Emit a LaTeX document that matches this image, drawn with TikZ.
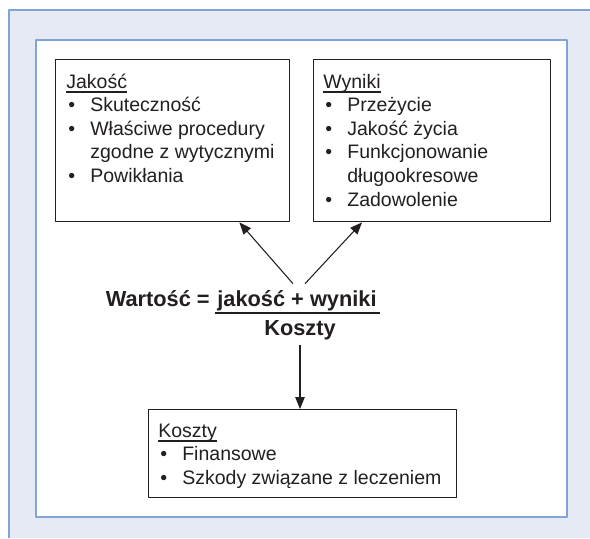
\documentclass[tikz,border=0pt]{standalone}
\usepackage{fontspec}
\setmainfont{Liberation Sans}
\usetikzlibrary{positioning,arrows.meta}
\definecolor{panelfill}{RGB}{230,234,245}
\definecolor{panelline}{RGB}{128,164,214}
\definecolor{ink}{RGB}{35,31,32}
\newcommand\boxtitle[1]{\strut\setbox0=\hbox{#1}\rlap{\rule[-0.09cm]{\wd0}{0.03cm}}\box0}
\newcommand\itm{\makebox[0.48cm][l]{\hspace{0.04cm}\textbullet}}
\newcommand\cnt{\hspace*{0.48cm}}
\begin{document}
\begin{tikzpicture}[x=0.02cm,y=-0.02cm,>={Triangle[length=0.24cm,width=0.19cm]},line join=round,
  box/.style={draw=ink,line width=0.8pt,inner sep=0pt,anchor=north west},
  list/.style={anchor=north west,inner sep=0pt,align=left,text=ink,font=\fontsize{11.1}{13.4}\selectfont},
  formula/.style={inner sep=0pt,text=ink,font=\fontsize{12.4}{14}\selectfont\bfseries}]
\useasboundingbox (0,0) rectangle (590,538);
\fill[panelfill] (9,10) rectangle (590,538);
\draw[panelline,line width=1pt] (9,538)--(9,10)--(590,10);
\filldraw[fill=white,draw=panelline,line width=1pt] (36,40) rectangle (567,517);
% boxes
\node[box,minimum width=4.68cm,minimum height=3.24cm] (jak) at (55,59) {};
\node[box,minimum width=4.74cm,minimum height=3.24cm] (wyn) at (313,59) {};
\node[box,minimum width=6.16cm,minimum height=1.76cm] (kos) at (148,409) {};
\node[list] (jakTxt) at ([shift={(0.22cm,-0.25cm)}]jak.north west)
  {\boxtitle{Jakość}\\ \itm Skuteczność\\ \itm Właściwe procedury\\ \cnt zgodne z wytycznymi\\ \itm Powikłania};
\node[list] (wynTxt) at ([shift={(0.2cm,-0.25cm)}]wyn.north west)
  {\boxtitle{Wyniki}\\ \itm Przeżycie\\ \itm Jakość życia\\ \itm Funkcjonowanie\\ \cnt długookresowe\\ \itm Zadowolenie};
\node[list] (kosTxt) at ([shift={(0.2cm,-0.23cm)}]kos.north west)
  {\boxtitle{Koszty}\\ \itm Finansowe\\ \itm Szkody związane z leczeniem};
% formula
\node[formula,anchor=base] (num) at (297,306) {jakość + wyniki};
\node[formula,anchor=base east] (wart) at ([xshift=-0.14cm]num.base west) {Wartość =};
\node[formula,anchor=base] (den) at (300,335) {Koszty};
\draw[ink,line width=1.4pt] ([shift={(-0.04cm,-0.14cm)}]num.base west)--([shift={(0.06cm,-0.14cm)}]num.base east);
% arrows
\draw[->,ink,line width=0.6pt] ([shift={(-0.08cm,0.12cm)}]num.north)--([xshift=-1.02cm]jak.south east);
\draw[->,ink,line width=0.6pt] ([shift={(0.16cm,0.12cm)}]num.north)--([xshift=0.98cm]wyn.south west);
\draw[->,ink,line width=0.6pt] ([yshift=-0.1cm]den.south)--(kos.north -| den.south);
\end{tikzpicture}
\end{document}
